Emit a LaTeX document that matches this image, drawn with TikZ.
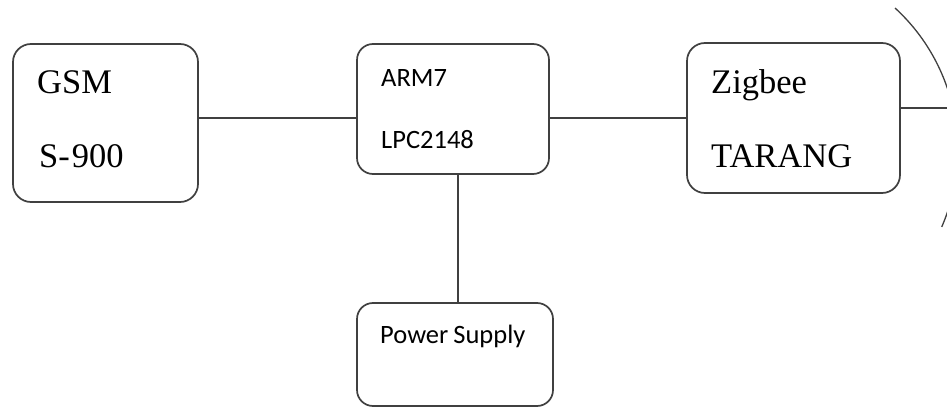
\documentclass[tikz,border=0pt]{standalone}
\usepackage{fontspec}
\setmainfont{Liberation Serif}
\newfontfamily\calib{Carlito}
\begin{document}
\begin{tikzpicture}[x=1pt,y=-1pt,
  box/.style={draw=black!75, line width=1.7pt, rounded corners=18pt, inner sep=0pt},
  wire/.style={draw=black!75, line width=1.7pt},
  serif/.style={anchor=base west, inner sep=0pt, font=\fontsize{34.5}{38}\selectfont},
  sans/.style={anchor=base west, inner sep=0pt, font=\calib\fontsize{26.5}{30}\selectfont}]
\useasboundingbox (0,0) rectangle (947,409);
\clip (0,0) rectangle (947,409);
\fill[white] (0,0) rectangle (947,409);
% boxes
\node[box, minimum width=185pt, minimum height=158pt] (gsm) at (105.5,123) {};
\node[box, minimum width=192pt, minimum height=130pt, rounded corners=16pt] (arm) at (453,109) {};
\node[box, minimum width=213pt, minimum height=150pt] (zig) at (793.5,118) {};
\node[box, minimum width=196pt, minimum height=103pt, rounded corners=16pt] (pow) at (455,354.5) {};
% texts
\node[serif] (t1) at (37,94) {GSM};
\node[serif] (t2) at (39,167) {S-\kern2pt900};
\node[sans] (t3) at (381,87) {ARM7};
\node[sans] (t4) at (381,148) {LPC2148};
\node[serif] (t5) at (711,94) {Zigbee};
\node[serif] (t6) at (711,167) {TARANG};
\node[sans] (t7) at (380,343) {Power\kern-1pt\ Supply};
% connectors
\coordinate (ya) at (0,118);
\coordinate (yb) at (0,118);
\coordinate (xv) at (458,0);
\coordinate (antend) at (960,108);
\draw[wire] (gsm.east |- ya) -- (arm.west |- ya);
\draw[wire] (arm.east |- yb) -- (zig.west |- yb);
\draw[wire] (arm.south -| xv) -- (pow.north -| xv);
\draw[wire] (zig.east |- antend) -- (antend);
% antenna arc
\coordinate (arcstart) at (895,8);
\draw[wire, line width=1.3pt] (arcstart) arc[start angle=47.5, end angle=-23.4, radius=193pt];
\end{tikzpicture}
\end{document}
